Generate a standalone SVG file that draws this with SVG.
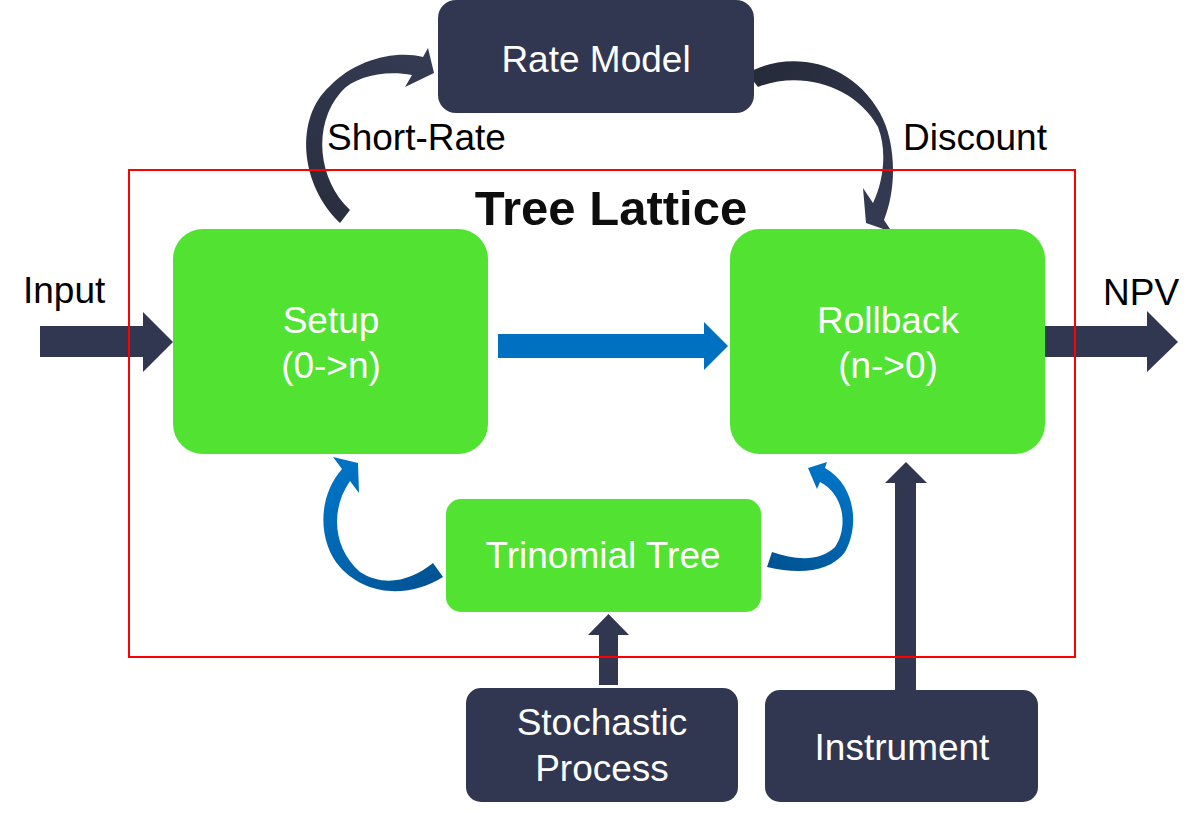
<svg xmlns="http://www.w3.org/2000/svg" width="1203" height="813" viewBox="0 0 1203 813">
<style>
.dark{fill:#313750}
.green{fill:#52e232}
.blue{fill:#0070c0}
.wt{font-family:"Liberation Sans",Arial,sans-serif;font-size:37px;fill:#ffffff;text-anchor:middle}
.bt{font-family:"Liberation Sans",Arial,sans-serif;font-size:37px;fill:#000000}
.title{font-family:"Liberation Sans",Arial,sans-serif;font-size:49px;font-weight:bold;fill:#0d0d0d;text-anchor:middle}
</style>
<defs>
<linearGradient id="gTL" gradientUnits="userSpaceOnUse" x1="345" y1="215" x2="425" y2="65"><stop offset="0" stop-color="#2a2f40"/><stop offset="1" stop-color="#343a52"/></linearGradient>
<linearGradient id="gTR" gradientUnits="userSpaceOnUse" x1="750" y1="80" x2="880" y2="215"><stop offset="0" stop-color="#262b3a"/><stop offset="1" stop-color="#343a52"/></linearGradient>
<linearGradient id="gBL" gradientUnits="userSpaceOnUse" x1="440" y1="570" x2="345" y2="470"><stop offset="0" stop-color="#005494"/><stop offset="0.5" stop-color="#0064ad"/><stop offset="1" stop-color="#0072c4"/></linearGradient>
<linearGradient id="gBR" gradientUnits="userSpaceOnUse" x1="770" y1="560" x2="825" y2="475"><stop offset="0" stop-color="#005494"/><stop offset="0.5" stop-color="#0064ad"/><stop offset="1" stop-color="#0072c4"/></linearGradient>
</defs>
<rect width="1203" height="813" fill="#ffffff"/>
<g id="connectors">
<polygon class="dark" points="40,326 143,326 143,312 173,342 143,372 143,357 40,357"/>
<polygon class="dark" points="1040,326 1147,326 1147,311 1178,342 1147,372 1147,357 1040,357"/>
<polygon class="blue" points="498,334 704,334 704,322 728,346 704,370 704,358 498,358"/>
<polygon class="dark" points="599,685 599,635 588,635 608.5,614 629,635 618,635 618,685"/>
<polygon class="dark" points="895,690 895,483 885,483 906,462 927,483 916,483 916,690"/>
<path fill="url(#gTL)" d="M340,223 C300,185 294,118 330,86 C355,60 395,50 423,57 L428,48 L434,73 L405,87 L412,75 C385,70 355,76 341,92 C312,125 318,180 350,210 Z"/>
<path fill="url(#gTR)" d="M747,73 C790,50 850,60 880,113 C895,140 898,185 884,220 L892,232 L866,223 L863,188 L873,203 C884,180 887,150 878,127 C855,85 800,70 758,87 Z"/>
<path fill="url(#gBL)" d="M443,577 C415,595 370,600 340,567 C320,545 315,500 342,469 L333,457 L358,463 L359,493 L350,481 C330,510 333,548 360,572 C385,588 412,580 433,563 Z"/>
<path fill="url(#gBR)" d="M767,567 C800,575 830,572 845,552 C860,525 855,485 825,468 L827,462 L808,468 L817,489 L820,482 C845,495 848,528 835,547 C820,562 795,560 772,552 Z"/>
</g>
<g id="rate-model">
<rect class="dark" x="438" y="0" width="316" height="113" rx="18"/>
<text class="wt" x="596" y="72">Rate Model</text>
</g>
<g id="setup">
<rect class="green" x="173" y="229" width="315" height="225" rx="30"/>
<text class="wt" x="331" y="333">Setup</text>
<text class="wt" x="331" y="378">(0-&gt;n)</text>
</g>
<g id="rollback">
<rect class="green" x="730" y="229" width="315" height="225" rx="30"/>
<text class="wt" x="888" y="333">Rollback</text>
<text class="wt" x="888" y="378">(n-&gt;0)</text>
</g>
<g id="trinomial-tree">
<rect class="green" x="446" y="499" width="315" height="113" rx="15"/>
<text class="wt" x="603" y="568">Trinomial Tree</text>
</g>
<g id="stochastic-process">
<rect class="dark" x="466" y="688" width="272" height="114" rx="15"/>
<text class="wt" x="602" y="735">Stochastic</text>
<text class="wt" x="602" y="781">Process</text>
</g>
<g id="instrument">
<rect class="dark" x="765" y="690" width="273" height="112" rx="15"/>
<text class="wt" x="902" y="760">Instrument</text>
</g>
<g id="tree-lattice">
<rect x="129" y="170" width="946" height="487" fill="none" stroke="#ff0000" stroke-width="2"/>
<text class="title" x="611" y="225">Tree Lattice</text>
</g>
<g id="labels">
<text class="bt" x="23" y="303">Input</text>
<text class="bt" x="1103" y="305">NPV</text>
<text class="bt" x="327" y="150">Short-Rate</text>
<text class="bt" x="903" y="150">Discount</text>
</g>
</svg>
